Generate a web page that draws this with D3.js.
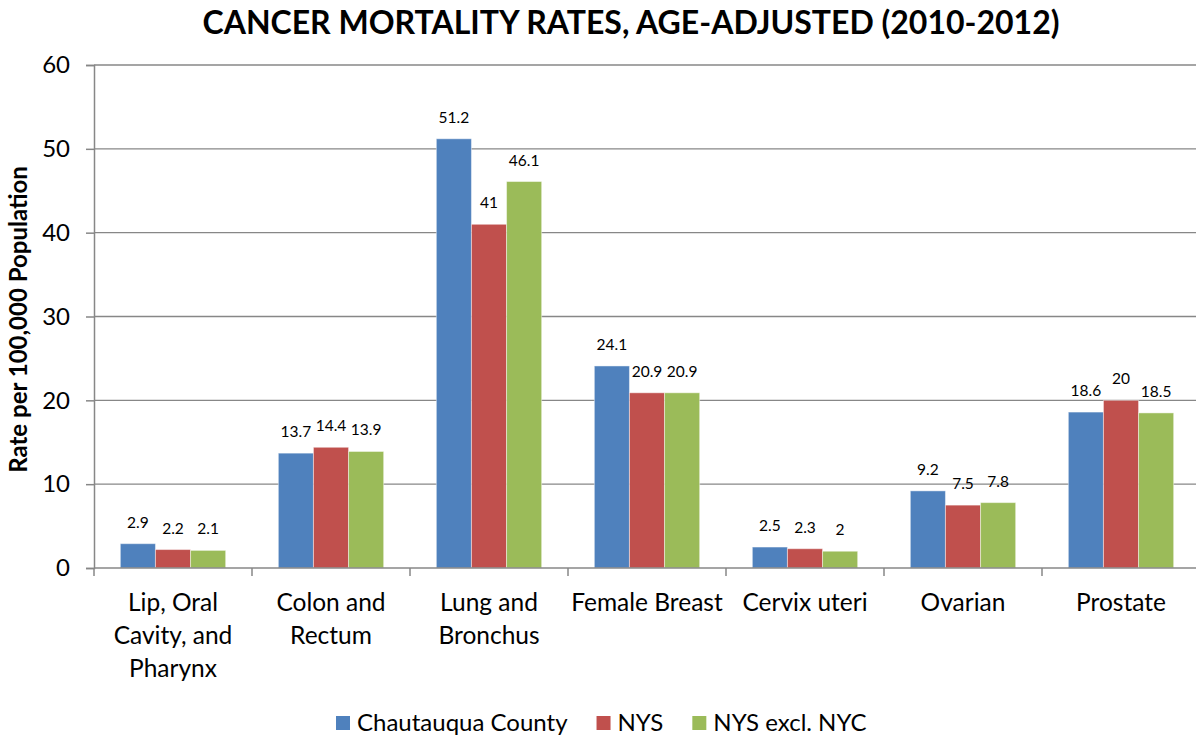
<!DOCTYPE html>
<html>
<head>
<meta charset="utf-8">
<script src="https://cdn.jsdelivr.net/npm/d3@7"></script>
<style>
  body { margin: 0; background: #fff; }
  svg { display: block; font-family: Lato, "Open Sans", sans-serif; }
</style>
</head>
<body>
<div class="chart-div"></div>
<script>
// chart data
var categories = [
  ["Lip, Oral", "Cavity, and", "Pharynx"],
  ["Colon and", "Rectum"],
  ["Lung and", "Bronchus"],
  ["Female Breast"],
  ["Cervix uteri"],
  ["Ovarian"],
  ["Prostate"]
];
var series_names = ["Chautauqua County", "NYS", "NYS excl. NYC"];
var chautauqua = [2.9, 13.7, 51.2, 24.1, 2.5, 9.2, 18.6];
var nys = [2.2, 14.4, 41, 20.9, 2.3, 7.5, 20];
var nys_excl_nyc = [2.1, 13.9, 46.1, 20.9, 2, 7.8, 18.5];
var y_ticks = [0, 10, 20, 30, 40, 50, 60];
var colours = ["#4F81BD", "#C0504D", "#9BBB59"];

function draw_chart() {
  var w = 1196,
      h = 738,
      plot_left = 94,
      plot_right = 1200,
      plot_top = 65,
      plot_bottom = 568,
      grid_colour = "#878787";

  var all_series = [chautauqua, nys, nys_excl_nyc];
  var cat_keys = categories.map(function(c) { return c.join(" "); });

  var svg = d3.select('.chart-div')
    .append('svg')
    .attr('width', w)
    .attr('height', h);

  var y = d3.scaleLinear().domain([0, 60]).range([plot_bottom, plot_top]);
  var x0 = d3.scaleBand().domain(cat_keys).range([plot_left, plot_right]).padding(0);
  var x1 = d3.scaleBand().domain(series_names).range([0, x0.bandwidth()])
    .paddingInner(0).paddingOuter(0.75);

  // title
  svg.append('text')
    .attr('x', 631)
    .attr('y', 34)
    .attr('text-anchor', 'middle')
    .style('font-weight', 'bold')
    .style('font-size', '32px')
    .text('CANCER MORTALITY RATES, AGE-ADJUSTED (2010-2012)');

  // gridlines
  svg.append('g').selectAll('line')
    .data(y_ticks.slice(1))
    .enter().append('line')
    .attr('x1', plot_left)
    .attr('x2', plot_right)
    .attr('y1', function(d) { return y(d); })
    .attr('y2', function(d) { return y(d); })
    .attr('stroke', grid_colour)
    .attr('stroke-width', 1.3);

  // y axis
  var y_axis = svg.append('g')
    .attr('transform', 'translate(' + plot_left + ',0)')
    .call(d3.axisLeft(y).tickValues(y_ticks).tickSize(8).tickPadding(16));
  y_axis.select('.domain').attr('stroke', grid_colour).attr('stroke-width', 1.5);
  y_axis.selectAll('.tick line').attr('stroke', grid_colour).attr('stroke-width', 1.5);
  y_axis.selectAll('.tick text')
    .style('font-family', 'Lato, sans-serif')
    .style('font-size', '24px')
    .attr('fill', '#000');

  // y title
  svg.append('text')
    .attr('transform', 'translate(27,' + ((plot_top + plot_bottom) / 2 + 3) + ') rotate(-90)')
    .attr('text-anchor', 'middle')
    .style('font-weight', 'bold')
    .style('font-size', '24px')
    .text('Rate per 100,000 Population');

  // bars
  var groups = svg.append('g').selectAll('g')
    .data(cat_keys)
    .enter().append('g')
    .attr('transform', function(d) { return 'translate(' + x0(d) + ',0)'; });

  groups.selectAll('rect')
    .data(function(d, i) {
      return series_names.map(function(s, j) { return {s: s, v: all_series[j][i], j: j}; });
    })
    .enter().append('rect')
    .attr('x', function(d) { return x1(d.s); })
    .attr('width', x1.bandwidth())
    .attr('y', function(d) { return y(d.v); })
    .attr('height', function(d) { return y(0) - y(d.v); })
    .attr('fill', function(d) { return colours[d.j]; })
    .attr('stroke', 'rgba(255,255,255,0.45)')
    .attr('stroke-width', 1);

  groups.selectAll('text.val')
    .data(function(d, i) {
      return series_names.map(function(s, j) { return {s: s, v: all_series[j][i]}; });
    })
    .enter().append('text')
    .attr('class', 'val')
    .attr('x', function(d) { return x1(d.s) + x1.bandwidth() / 2; })
    .attr('y', function(d) { return y(d.v) - 16; })
    .attr('text-anchor', 'middle')
    .style('font-size', '15.5px')
    .text(function(d) { return d.v; });

  // x axis
  svg.append('line')
    .attr('x1', plot_left).attr('x2', plot_right)
    .attr('y1', plot_bottom).attr('y2', plot_bottom)
    .attr('stroke', grid_colour).attr('stroke-width', 1.5);

  var boundaries = cat_keys.map(function(d) { return x0(d); }).concat([plot_right]);
  svg.append('g').selectAll('line')
    .data(boundaries)
    .enter().append('line')
    .attr('x1', function(d) { return d; })
    .attr('x2', function(d) { return d; })
    .attr('y1', plot_bottom)
    .attr('y2', plot_bottom + 8)
    .attr('stroke', grid_colour)
    .attr('stroke-width', 1.5);

  // category labels
  var cat_text = svg.append('g').selectAll('text')
    .data(categories)
    .enter().append('text')
    .attr('text-anchor', 'middle')
    .style('font-size', '24.5px')
    .attr('x', function(d) { return x0(d.join(" ")) + x0.bandwidth() / 2; })
    .attr('y', 611);
  cat_text.selectAll('tspan')
    .data(function(d) { return d; })
    .enter().append('tspan')
    .attr('x', function() { return d3.select(this.parentNode).attr('x'); })
    .attr('dy', function(d, i) { return i === 0 ? 0 : 33; })
    .text(function(d) { return d; });

  // legend
  var legend = svg.append('g');
  var lx = 336;
  series_names.forEach(function(s, i) {
    legend.append('rect')
      .attr('x', lx)
      .attr('y', 716)
      .attr('width', 14)
      .attr('height', 14)
      .attr('fill', colours[i]);
    var t = legend.append('text')
      .attr('x', lx + 21)
      .attr('y', 731)
      .style('font-size', '24px')
      .text(s);
    lx = lx + 21 + t.node().getComputedTextLength() + 29;
  });
}

draw_chart();
</script>
</body>
</html>
